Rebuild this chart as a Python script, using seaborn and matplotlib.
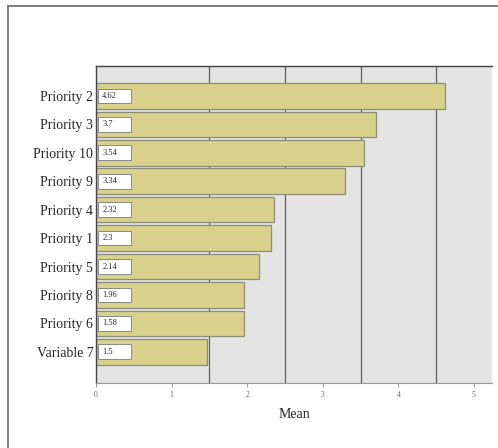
import pandas as pd
import seaborn as sns
import matplotlib.pyplot as plt
from matplotlib.patches import Rectangle

# data
variables = ["Priority 2", "Priority 3", "Priority 10", "Priority 9", "Priority 4",
             "Priority 1", "Priority 5", "Priority 8", "Priority 6", "Variable 7"]
bar_lengths = [4.62, 3.70, 3.54, 3.30, 2.35, 2.31, 2.15, 1.96, 1.96, 1.47]
value_labels = ["4.62", "3.7", "3.54", "3.34", "2.32", "2.3", "2.14", "1.96", "1.58", "1.5"]
x_ticks = [0, 1, 2, 3, 4, 5]
ref_lines = [1.5, 2.5, 3.5, 4.5]

data = pd.DataFrame({"Variable": variables, "Mean": bar_lengths})

sns.set_style("white")
plt.rcParams['font.family'] = ['Liberation Serif', 'DejaVu Serif']

fig = plt.figure(figsize=(4.98, 4.48), dpi=100)
ax = fig.add_axes([0.193, 0.145, 0.795, 0.708])
ax.set_facecolor("#e4e4e4")

for v in ref_lines:
    ax.axvline(v, color="#606060", lw=0.9, zorder=0.5)

sns.barplot(data=data, x="Mean", y="Variable", orient="h", color="#d8d18c",
            saturation=1, width=0.9, edgecolor="#8c8c78", linewidth=0.9, ax=ax, zorder=2)

# white value boxes at the start of each bar
for i, lab in enumerate(value_labels):
    ax.add_patch(Rectangle((0.03, i - 0.26), 0.43, 0.52, facecolor="white",
                           edgecolor="#888888", lw=0.7, zorder=3))
    ax.text(0.08, i, lab, fontsize=6, va="center", ha="left", zorder=4)

ax.set_xlim(0, 5.24)
ax.set_ylim(10.1, -1.06)
ax.set_xticks(x_ticks)
ax.set_xticklabels([str(t) for t in x_ticks], fontsize=5.5, color="#666666")
ax.tick_params(axis="x", length=3, width=0.6, color="#888888", pad=3, bottom=True)
ax.tick_params(axis="y", length=0, labelsize=10, pad=2)
ax.set_xlabel("Mean", fontsize=10, labelpad=6)
ax.set_ylabel("")

for s in ["top", "left"]:
    ax.spines[s].set_color("#444444")
    ax.spines[s].set_linewidth(1.0)
ax.spines["bottom"].set_color("#999999")
ax.spines["right"].set_visible(False)

# outer frame of the figure
fig.add_artist(plt.Line2D([0.017, 0.017], [0.0, 0.987], color="#666666", lw=1.2))
fig.add_artist(plt.Line2D([0.017, 1.0], [0.987, 0.987], color="#666666", lw=1.2))

fig.savefig("out.png", dpi=100)
